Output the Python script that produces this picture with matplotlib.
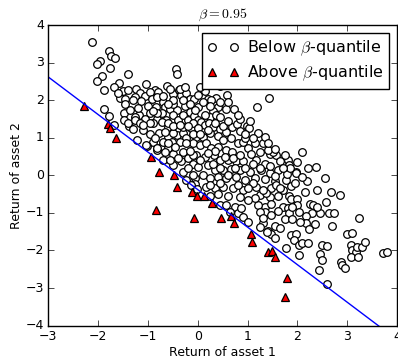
import matplotlib
matplotlib.use("Agg")
import matplotlib.pyplot as plt

# returns below the beta-quantile line (circles)
below_x = [
    -2.13, -1.78, -1.74, -1.66, -1.97, -2.02, -1.76, -1.40, -1.92, -2.03, -1.58, -1.68, -1.04, -1.89, -1.50, -1.40,
    -1.23, -1.16, -0.86, -1.56, -1.46, -1.26, -1.06, -0.96, -1.13, -1.45, -1.00, -0.84, -1.88, -1.48, -1.78, -1.18, -0.96,
    -0.43, -0.41, -0.79, -0.62, -0.92, -0.82, -0.69, -0.49, -0.37, -0.33, -0.23, -0.16, -0.07, 0.00, -0.66, -0.56,
    -0.41, -0.26, -0.16, 0.00, -1.48, -1.26, -1.06, -0.82, -0.72, -0.64, -0.49, -0.39, -0.29, -0.19, -0.08, 0.00,
    -1.37, -1.30, -1.09, -1.22, -0.89, -0.77, -0.74, -0.59, -0.52, -0.39, -0.41, -0.29, -0.23, -0.13, -0.04, -0.09,
    -1.02, -0.59,
    0.14, 0.21, 0.36, 0.58, 1.42, 1.19, 0.41, 0.56, 0.72, 0.31, 0.24, 0.37, -0.09, 0.07, 0.14, 0.23, 0.00, 0.31, 0.44,
    0.57, 0.69, 0.78, 0.98, 1.02, 0.85, 1.20, 0.11, 0.24, 0.41, 0.51, 0.67, 0.80, 0.90, 1.00, 0.04, 0.17, 0.27, 0.41,
    0.57, 0.69, 1.07, 1.24, 1.44, 1.57, -0.03, 0.14, 0.32, 0.44, 0.60, 0.77, 0.90, 1.17, 1.34, 1.65, 1.80, 1.84, -0.09,
    0.01, 0.21, 0.34, 0.51, 0.67, 0.84, 1.04, 1.27, 1.44, 1.60, 1.97, -0.06, 0.11, 0.24, 0.41, 0.57, 0.77, 0.94, 1.14,
    1.34, 1.54, 1.77, -0.05, 0.17, 0.34, 0.51, 0.70, 0.90, 1.17, 1.47, 1.70, 0.24, 0.60, 0.84, 1.24, 1.44, 1.84,
    -0.49, -0.82, -0.89, -0.72, -0.59, -0.29, -0.66, -0.49, -0.69, -0.36, -0.23, -0.82, -0.66, -0.49, -0.29, -0.69,
    -0.49, -0.33, -0.19, -0.29, -0.23, -0.09, -0.13, -0.02,
    2.09, 2.22, 2.38, 1.97, 1.78, 1.85, 1.50, 1.40, 1.30, 1.34, 2.20, 2.55, 2.68, 2.85, 2.58, 2.25, 2.32, 1.87, 2.00,
    1.57, 1.64, 1.87, 1.37, 1.70, 1.80, 2.00, 1.34, 1.47,
    2.46, 2.63, 2.73, 3.23, 2.29, 2.17, 2.04, 1.84, 1.74, 1.90, 2.17, 2.24, 2.70, 1.34, 1.47, 1.54, 1.30, 1.40, 1.47,
    1.54, 1.87, 1.97, 1.94, 2.04, 2.10, 2.22, 2.04, 1.76, 2.49, 2.59, 2.46, 2.49, 2.43, 2.59, 2.87, 2.89, 2.95, 3.00,
    3.09, 3.07, 3.10, 3.18, 3.19, 3.29, 3.35, 3.07, 3.21, 3.71, 3.79,
    0.44, 0.57, 0.74, 0.64, 0.80, 0.90, 1.20, 1.24, 1.30, 1.24, 1.38, 1.00, 0.87,
    -1.68, -1.39, -1.04, -0.81, -1.26, -1.16, -0.96,
    -0.35, 0.45, 0.26, -0.29, -0.49,
    # overlapping points in the dense core
    -0.95, -0.85, -0.60, -0.50, -0.35, -0.20, -0.10, 0.05, 0.20, 0.35, 0.50, 0.60, 0.45, 0.15, -0.05, 0.25,
    0.60, 0.85, 1.05, 0.95, 1.15, 1.10, 1.25, 1.45, 0.55, 0.70, 0.85, 0.35, 0.20, 0.05, -0.10, -0.20,
    -0.40, -0.55, -0.60, -0.45, -0.15, 0.30, 0.45, 0.60, 0.75, 0.95, 1.10, 1.00, 0.80, 0.45, 0.25, 1.30,
    1.60, 1.55, 1.70, -1.35, -1.20, -1.30, -1.60, -0.70, -0.55, -0.25, 0.05, -1.10, -0.90, -0.60, -0.15,
    0.10, 0.45, 0.80, 0.95, 1.10, 1.40, 1.55, 1.75, 2.00, 2.10, 1.95, 2.15, 2.40, 1.15, 1.00, 0.40,
    1.60, 1.90, 2.40, 2.05, 1.65, 2.35,
]
below_y = [
    3.54, 3.32, 3.17, 3.11, 3.04, 2.96, 2.86, 2.69, 2.64, 2.52, 2.45, 2.36, 2.42, 2.28, 2.24, 2.26,
    2.29, 2.18, 2.27, 2.07, 2.02, 2.08, 2.11, 2.22, 1.97, 1.89, 1.84, 1.81, 1.76, 1.67, 1.59, 1.61, 1.65,
    2.82, 2.71, 2.23, 2.37, 2.04, 2.09, 1.95, 2.17, 2.27, 2.13, 2.18, 2.02, 2.02, 2.13, 1.82, 1.76,
    1.74, 1.84, 1.69, 1.82, 1.47, 1.56, 1.49, 1.51, 1.65, 1.48, 1.61, 1.48, 1.61, 1.47, 1.58, 1.47,
    1.31, 1.22, 1.20, 0.95, 0.89, 1.13, 0.76, 1.03, 0.89, 1.20, 1.07, 1.12, 0.99, 1.25, 1.03, 0.85,
    0.78, 0.74,
    2.25, 2.02, 2.07, 2.14, 2.07, 1.81, 1.82, 1.77, 1.76, 1.72, 1.56, 1.61, 1.38, 1.42, 1.33, 1.38, 1.25, 1.29, 1.22,
    1.16, 1.29, 1.36, 1.31, 1.27, 1.19, 1.13, 1.03, 1.12, 1.05, 0.93, 0.99, 0.85, 0.89, 0.74, 0.80, 0.85, 0.72, 0.76,
    0.67, 0.63, 0.58, 0.63, 0.58, 0.54, 0.54, 0.50, 0.54, 0.41, 0.41, 0.37, 0.37, 0.41, 0.31, 0.37, 0.41, 0.27, 0.31,
    0.22, 0.27, 0.14, 0.14, 0.18, 0.14, 0.09, 0.14, 0.06, 0.14, 0.09, -0.08, 0.01, -0.08, -0.04, -0.08, -0.05, -0.12, -0.08,
    -0.10, -0.14, -0.12, -0.24, -0.31, -0.35, -0.31, -0.35, -0.39, -0.31, -0.35, -0.39, -0.55, -0.55, -0.57, -0.53, -0.57, -0.55,
    1.91, 1.65, 1.38, 1.42, 1.29, 1.29, 1.16, 1.12, 0.89, 0.89, 0.85, 0.67, 0.63, 0.58, 0.63, 0.41,
    0.27, 0.37, 0.45, 0.09, -0.12, 0.01, -0.25, -0.36,
    0.61, 0.20, 0.22, 0.07, 0.03, 0.19, 0.63, 0.67, 0.85, 1.03, -0.15, -0.08, -0.45, -0.53, -0.70, -0.77, -0.79, -0.64, -0.62,
    -0.26, -0.35, -0.29, -0.48, -0.83, -0.86, -0.79, -0.83, -0.76,
    -1.01, -1.01, -1.01, -1.14, -1.01, -1.08, -0.97, -1.01, -1.17, -1.17, -1.28, -1.43, -1.36, -0.97, -1.06, -1.36, -1.28, -1.48, -1.56,
    -1.68, -1.59, -1.55, -1.72, -1.85, -1.79, -1.79, -2.12, -1.94, -1.85, -1.88, -2.10, -2.25, -2.52, -2.89, -2.30, -2.39, -2.47, -1.55,
    -1.53, -1.85, -1.98, -2.04, -1.90, -1.90, -1.77, -2.17, -2.17, -2.06, -2.04,
    -0.79, -0.79, -0.83, -0.97, -1.01, -1.10, -0.79, -0.97, -1.14, -1.38, -1.50, -1.23, -0.88,
    1.33, 1.38, 0.80, 0.72, 1.47, 1.38, 1.38,
    2.31, 2.38, 2.00, 2.00, 2.00,
    # overlapping points in the dense core
    1.10, 1.00, 1.40, 1.30, 1.35, 1.30, 1.10, 1.10, 1.20, 1.40, 1.30, 1.45, 1.55, 1.60, 1.75, 1.85,
    1.95, 1.50, 1.45, 1.00, 0.85, 0.30, 0.20, 0.25, 0.50, 0.45, 0.55, 0.65, 0.60, 0.40, 0.55, 0.20,
    0.45, 0.40, 0.85, 0.75, 0.65, 0.30, 0.20, 0.00, 0.20, 0.20, -0.20, -0.35, -0.25, -0.20, -0.25, -0.40,
    -0.55, -0.02, 0.20, 1.75, 1.80, 2.00, 2.20, 2.10, 2.30, 2.35, 2.35, 1.35, 1.70, 1.90, 1.90,
    1.95, 1.95, 1.60, 1.10, 1.00, 0.85, 0.70, 0.55, 0.35, -0.05, -0.20, -0.45, -0.40, -0.60, -0.65, -0.50,
    -0.95, -0.85, -0.85, -1.25, -1.40, -1.30,
]

# returns above the beta-quantile line (triangles)
above_x = [-2.29, -1.80, -1.75, -1.63, -0.93, -0.78, -0.83, -0.48, -0.41, -0.11, -0.01, 0.13,
           0.29, -0.08, 0.46, 0.67, 0.72, 1.07, 1.09, 1.40, 1.48, 1.54, 1.78, 1.74]
above_y = [1.85, 1.36, 1.27, 0.99, 0.50, 0.09, -0.91, 0.00, -0.32, -0.45, -0.56, -0.55,
           -0.74, -1.14, -1.14, -1.08, -1.27, -1.55, -1.78, -2.05, -2.02, -2.18, -2.72, -3.25]

beta = 0.95
line_slope = -1.0
line_icpt = -0.38
x_range = [-3, 4]

plt.style.use('classic')
fig = plt.figure(figsize=(3.98, 3.63), dpi=100)
ax = fig.add_axes([0.121, 0.103, 0.877, 0.828])

ax.plot(below_x, below_y, 'o', markerfacecolor='white', markeredgecolor='black',
        markersize=5.5, markeredgewidth=0.9, label=r'Below $\beta$-quantile')
ax.plot(above_x, above_y, '^', markerfacecolor='red', markeredgecolor='black',
        markersize=6, markeredgewidth=0.9, label=r'Above $\beta$-quantile')
ax.plot(x_range, [line_slope * v + line_icpt for v in x_range], color='blue', linewidth=1)

ax.set_xlim(-3, 4)
ax.set_ylim(-4, 4)
ax.set_xticks(range(-3, 5))
ax.set_yticks(range(-4, 5))
ax.tick_params(labelsize=9, pad=3)
ax.set_title(r'$\beta = %.2f$' % beta, fontsize=10)
ax.set_xlabel('Return of asset 1', fontsize=9, labelpad=2)
ax.set_ylabel('Return of asset 2', fontsize=9, labelpad=2)
ax.legend(loc='upper right', numpoints=2, fontsize=11.5, borderpad=0.35,
          labelspacing=0.35, handletextpad=0.5, borderaxespad=0.5)

fig.savefig('out.png', dpi=100)
